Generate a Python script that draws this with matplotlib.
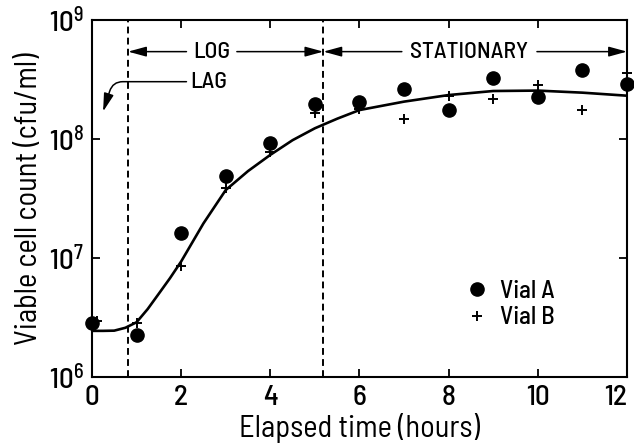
import matplotlib
matplotlib.use("Agg")
import matplotlib.pyplot as plt
from matplotlib.lines import Line2D
from matplotlib.ticker import FixedLocator, NullLocator, LogFormatterMathtext

plt.rcParams["font.family"] = ["Barlow Semi Condensed", "DejaVu Sans"]
plt.rcParams["font.weight"] = "medium"
plt.rcParams["mathtext.fontset"] = "custom"
plt.rcParams["mathtext.rm"] = "Barlow Semi Condensed:medium"
plt.rcParams["mathtext.default"] = "rm"

# contagens (cfu/ml)
horas_a = [0, 1, 2, 3, 4, 5, 6, 7, 8, 9, 10, 11, 12]
vial_a = [2.86e6, 2.25e6, 1.63e7, 4.9e7, 9.2e7, 1.97e8, 2.06e8, 2.62e8,
          1.75e8, 3.27e8, 2.27e8, 3.8e8, 2.88e8]

horas_b = [0.12, 1, 2, 3, 4, 5, 6, 7, 8, 9, 10, 11, 12]
vial_b = [2.97e6, 2.82e6, 8.6e6, 3.86e7, 7.7e7, 1.64e8, 1.8e8, 1.47e8,
          2.31e8, 2.17e8, 2.84e8, 1.75e8, 3.57e8]

# curva ajustada
horas_curva = [0, 0.25, 0.5, 0.75, 1.0, 1.25, 1.5, 1.75, 2.0, 2.5, 3, 3.5,
               4, 4.5, 5, 5.5, 6, 7, 8, 9, 10, 11, 12]
curva = [2.44e6, 2.44e6, 2.45e6, 2.59e6, 2.88e6, 3.72e6, 5.01e6, 6.76e6,
         9.33e6, 1.95e7, 3.72e7, 5.37e7, 7.35e7, 9.77e7, 1.23e8, 1.48e8,
         1.75e8, 2.06e8, 2.34e8, 2.53e8, 2.55e8, 2.45e8, 2.31e8]

fim_lag = 0.81
fim_log = 5.19

fig = plt.figure(figsize=(6.34, 4.44), dpi=100)
ax = fig.add_axes([0.145, 0.151, 0.844, 0.804])

ax.plot(horas_curva, curva, color="black", lw=1.9, zorder=2)
ax.plot(horas_a, vial_a, "o", color="black", ms=9.5, clip_on=False, zorder=3)
ax.plot(horas_b, vial_b, "+", color="black", ms=7, mew=1.4, clip_on=False, zorder=3)

for xv in (fim_lag, fim_log):
    ax.axvline(xv, color="black", lw=1.4, dashes=(3.5, 2.2), zorder=1)

ax.set_yscale("log")
ax.set_xlim(0, 12)
ax.set_ylim(1e6, 1e9)
ax.xaxis.set_major_locator(FixedLocator([0, 2, 4, 6, 8, 10, 12]))
ax.yaxis.set_major_locator(FixedLocator([1e6, 1e7, 1e8, 1e9]))
ax.yaxis.set_major_formatter(LogFormatterMathtext())
ax.yaxis.set_minor_locator(NullLocator())
ax.tick_params(direction="in", top=True, right=True, width=1.3, length=6,
               labelsize=21, pad=6)
for s in ax.spines.values():
    s.set_linewidth(1.5)

fig.canvas.draw()
ultimo = ax.get_xticklabels()[-1]
ultimo.set_horizontalalignment("right")
ultimo.set_x(12.06)

ax.set_xlabel("Elapsed time (hours)", fontsize=22, labelpad=1)
ax.set_ylabel("Viable cell count (cfu/ml)", fontsize=22, labelpad=4)

# setas das fases
y_fase = 5.42e8
seta = dict(arrowstyle="-|>,head_length=1.1,head_width=0.3", color="black", lw=1.1,
            shrinkA=0, shrinkB=0)
ax.text(2.68, y_fase, "LOG", fontsize=17, ha="center", va="center")
ax.annotate("", xy=(fim_lag, y_fase), xytext=(2.12, y_fase), arrowprops=seta)
ax.annotate("", xy=(fim_log, y_fase), xytext=(3.25, y_fase), arrowprops=seta)
ax.text(8.46, y_fase, "STATIONARY", fontsize=17, ha="center", va="center")
ax.annotate("", xy=(fim_log, y_fase), xytext=(6.95, y_fase), arrowprops=seta)
ax.annotate("", xy=(12, y_fase), xytext=(9.98, y_fase), arrowprops=seta)

ax.text(2.2, 3.03e8, "LAG", fontsize=17, ha="left", va="center")
ax.annotate("", xy=(0.25, 1.7e8), xytext=(2.12, 3.03e8),
            arrowprops=dict(arrowstyle="-|>,head_length=1.1,head_width=0.3",
                            color="black", lw=1.1, shrinkA=0, shrinkB=0,
                            connectionstyle="angle,angleA=0,angleB=72,rad=10"))

itens = [Line2D([], [], marker="o", ls="none", color="black", ms=9.5),
         Line2D([], [], marker="+", ls="none", color="black", ms=7, mew=1.4)]
ax.legend(itens, ["Vial A", "Vial B"], loc="center left", bbox_to_anchor=(0.672, 0.203),
          frameon=False, fontsize=18, handlelength=1.0, handletextpad=0.45,
          labelspacing=0.15, borderpad=0)

fig.savefig("out.png", dpi=100)
